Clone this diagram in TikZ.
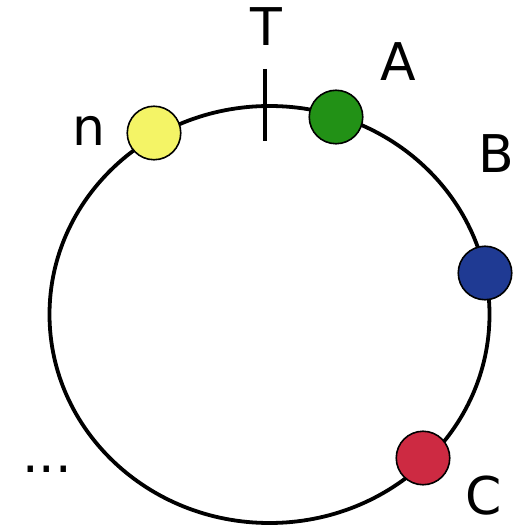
\documentclass[tikz,border=0pt]{standalone}
\usepackage{fontspec}
\setmainfont{DejaVu Sans}
\definecolor{ballyellow}{HTML}{F4F466}
\definecolor{ballgreen}{HTML}{229116}
\definecolor{ballblue}{HTML}{1F3A93}
\definecolor{ballred}{HTML}{CD2A42}
\begin{document}
\begin{tikzpicture}[x=1pt,y=-1pt,
  ring/.style={line width=3.8pt,draw=black},
  tickline/.style={line width=3.8pt,draw=black},
  ball/.style={circle,draw=black,line width=1.6pt,minimum size=53.5pt,inner sep=0pt},
  lbl/.style={inner sep=0pt,font=\fontsize{52}{60}\selectfont}]
\useasboundingbox (0,0) rectangle (532,526);
\draw[ring] (269.5,314.5) ellipse [x radius=220, y radius=208.5];
\coordinate (t1) at (265,69);
\coordinate (t2) at (265,141);
\draw[tickline] (t1) -- (t2);
\node[ball,fill=ballyellow] (bn) at (154,133) {};
\node[ball,fill=ballgreen] (ba) at (336,117) {};
\node[ball,fill=ballblue] (bb) at (485,273) {};
\node[ball,fill=ballred] (bc) at (423,458) {};
\node[lbl] (lt) at (266,27) {T};
\node[lbl] (la) at (398,62) {A};
\node[lbl] (lb) at (496,154) {B};
\node[lbl] (ln) at (89,131) {n};
\node[lbl] (lc) at (484,496) {C};
\node[lbl] (ld) at (47,469) {...};
\end{tikzpicture}
\end{document}
